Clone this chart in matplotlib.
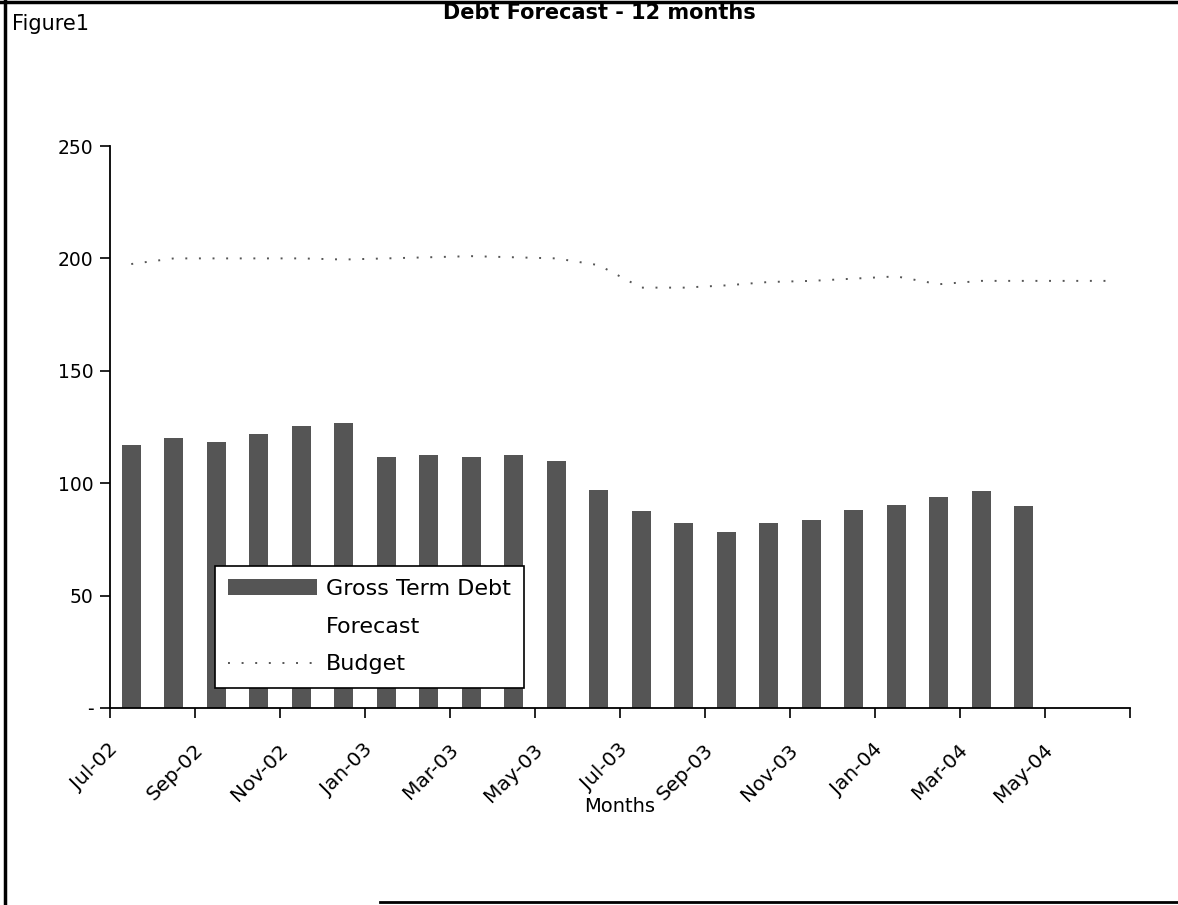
import matplotlib
matplotlib.use('Agg')
from matplotlib import pyplot as plt
from matplotlib.lines import Line2D
from matplotlib.patches import Patch
from matplotlib.ticker import FuncFormatter
import matplotlib.transforms as mtransforms

plt.rcParams['font.family'] = ['DejaVu Sans']

# month slots Jul-02 .. Jun-04
months = ['Jul-02', 'Aug-02', 'Sep-02', 'Oct-02', 'Nov-02', 'Dec-02',
          'Jan-03', 'Feb-03', 'Mar-03', 'Apr-03', 'May-03', 'Jun-03',
          'Jul-03', 'Aug-03', 'Sep-03', 'Oct-03', 'Nov-03', 'Dec-03',
          'Jan-04', 'Feb-04', 'Mar-04', 'Apr-04', 'May-04', 'Jun-04']

gross_debt = [117, 120, 118.5, 122, 125.5, 127, 111.5, 112.5, 111.5, 112.5, 110, 97,
              87.5, 82.5, 78.5, 82.5, 83.5, 88, 90.5, 94, 96.5, 90]

budget = [197.5, 200, 200, 200, 200, 199.5, 200, 200.5, 201, 200.5, 200, 197,
          187, 187, 188, 189.5, 190, 191, 192, 188.5, 190, 190, 190, 190]

x_bar = [i + 0.5 for i in range(len(gross_debt))]
x_budget = [i + 0.5 for i in range(len(budget))]

fig = plt.figure(figsize=(11.78, 9.05), dpi=100)
ax = fig.add_axes([110 / 1178, 1 - 708 / 905, 1020 / 1178, 562 / 905])

ax.bar(x_bar, gross_debt, width=0.45, color='#555555', zorder=2)
ax.plot(x_budget, budget, color='#555555', lw=1.4, ls=(0, (1, 6)), zorder=3)

ax.set_xlim(0, 24)
ax.set_ylim(0, 250)
ax.set_yticks([0, 50, 100, 150, 200, 250])
ax.yaxis.set_major_formatter(FuncFormatter(lambda v, p: '-' if v == 0 else f'{v:.0f}'))

ax.set_xticks(range(0, 25, 2))
ax.set_xticklabels([months[i] if i < 24 else '' for i in range(0, 25, 2)],
                   rotation=45, ha='right', va='center', rotation_mode='anchor')

for s in ['top', 'right']:
    ax.spines[s].set_visible(False)
for s in ['left', 'bottom']:
    ax.spines[s].set_linewidth(1.3)
ax.tick_params(axis='both', direction='out', length=7, width=1.2)
ax.tick_params(axis='y', pad=5, labelsize=13.5)
ax.tick_params(axis='x', pad=21, labelsize=14.5)

shift = mtransforms.ScaledTranslation(5 / 100, 0, fig.dpi_scale_trans)
for lbl in ax.get_xticklabels():
    lbl.set_transform(lbl.get_transform() + shift)

ax.set_xlabel('Months', fontsize=14)
ax.xaxis.label.set_va('center')
ax.xaxis.set_label_coords(0.5, (708 - 807) / 562)

handles = [Patch(facecolor='#555555', edgecolor='none'),
           Line2D([], [], color='white'),
           Line2D([], [], color='#555555', lw=1.4, ls=(0, (1, 6)))]
leg = ax.legend(handles, ['Gross Term Debt', 'Forecast', 'Budget'],
                loc='lower left', bbox_to_anchor=(0.103, 0.036), fontsize=16,
                handlelength=4.0, handletextpad=0.4, labelspacing=0.8,
                fancybox=False, framealpha=1, edgecolor='black',
                borderpad=0.6, borderaxespad=0)
leg.get_frame().set_linewidth(1.2)
leg.set_zorder(5)

fig.text(599 / 1178, 1 - 13 / 905, 'Debt Forecast - 12 months', ha='center', va='center',
         fontsize=15, fontweight='bold')
fig.text(12 / 1178, 1 - 24 / 905, 'Figure1', ha='left', va='center', fontsize=15)

# frame around the page
fig.add_artist(Line2D([5 / 1178, 5 / 1178], [0, 1], transform=fig.transFigure, color='black', lw=2.5))
fig.add_artist(Line2D([0, 1], [1 - 2 / 905, 1 - 2 / 905], transform=fig.transFigure, color='black', lw=2.5))
fig.add_artist(Line2D([380 / 1178, 1], [3 / 905, 3 / 905], transform=fig.transFigure, color='black', lw=2))

fig.savefig('out.png', dpi=100)
